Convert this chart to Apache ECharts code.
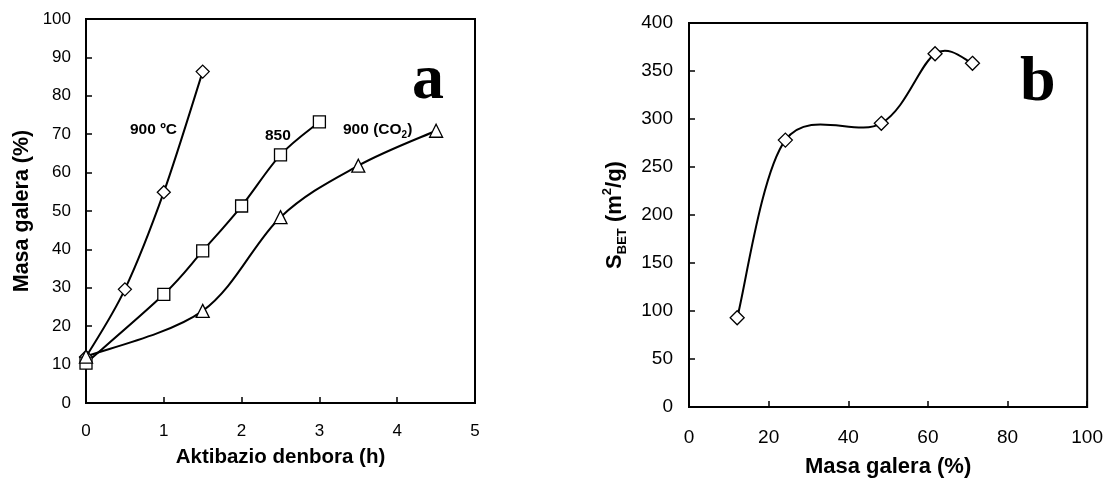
<!DOCTYPE html>
<html>
<head>
<meta charset="utf-8">
<script src="https://cdn.jsdelivr.net/npm/echarts@6/dist/echarts.min.js"></script>
<style>html,body{margin:0;padding:0;background:#fff;}#c{width:1106px;height:484px;}</style>
</head>
<body>
<div id="c"></div>
<script>
// Panel a: activation time (h) vs mass loss (%)
const xA_900C = [0, 0.5, 1, 1.5];
const yA_900C = [12, 29.6, 54.9, 86.3];
const xA_850 = [0, 1, 1.5, 2, 2.5, 3];
const yA_850 = [10.4, 28.3, 39.6, 51.3, 64.6, 73.2];
const xA_CO2 = [0, 1.5, 2.5, 3.5, 4.5];
const yA_CO2 = [12.1, 24, 48.4, 61.8, 70.9];
// Panel b: mass loss (%) vs S_BET (m2/g)
const xB = [12.1, 24.2, 48.3, 61.8, 71.2];
const yB = [93, 278, 295.5, 368, 358];

const zip = (xs, ys) => xs.map((x, i) => [x, ys[i]]);
const FONT = 'Liberation Sans, Arial, sans-serif';
const SERIF = 'Liberation Serif, Times New Roman, serif';

function axis(opt) {
  return Object.assign({
    type: 'value',
    axisLine: { show: true, lineStyle: { color: '#000', width: 2 } },
    axisTick: { show: true, inside: true, length: 6, lineStyle: { color: '#000', width: 1.5 } },
    splitLine: { show: false },
    nameLocation: 'middle'
  }, opt);
}

// Excel-style smoothed line (Catmull-Rom Bezier) drawn through the axes' scales
function smoothLine(xs, ys, idx) {
  return {
    type: 'custom', xAxisIndex: idx, yAxisIndex: idx,
    data: zip(xs, ys), encode: { x: 0, y: 1 },
    silent: true, z: 2,
    renderItem: function (params, api) {
      const i = params.dataIndex, n = xs.length;
      if (i >= n - 1) return null;
      const P = k => { k = Math.max(0, Math.min(n - 1, k)); return api.coord([xs[k], ys[k]]); };
      const p0 = P(i - 1), p1 = P(i), p2 = P(i + 1), p3 = P(i + 2);
      const t = 1 / 6;
      return {
        type: 'bezierCurve',
        shape: {
          x1: p1[0], y1: p1[1], x2: p2[0], y2: p2[1],
          cpx1: p1[0] + (p2[0] - p0[0]) * t, cpy1: p1[1] + (p2[1] - p0[1]) * t,
          cpx2: p2[0] - (p3[0] - p1[0]) * t, cpy2: p2[1] - (p3[1] - p1[1]) * t
        },
        style: { stroke: '#000', lineWidth: 2, fill: null }
      };
    }
  };
}
function markers(name, xs, ys, sym, size, idx) {
  return {
    name, type: 'scatter', xAxisIndex: idx, yAxisIndex: idx,
    data: zip(xs, ys), symbol: sym, symbolSize: size, z: 4,
    itemStyle: { color: '#fff', borderColor: '#000', borderWidth: 1.3, opacity: 1 }
  };
}

const chart = echarts.init(document.getElementById('c'), null, { renderer: 'canvas' });
chart.setOption({
  animation: false,
  backgroundColor: '#fff',
  grid: [
    { left: 86, top: 19, width: 389, height: 384, show: true, borderColor: '#000', borderWidth: 2, backgroundColor: 'transparent' },
    { left: 689, top: 23, width: 399, height: 384, show: true, borderColor: '#000', borderWidth: 2, backgroundColor: 'transparent' }
  ],
  xAxis: [
    axis({ gridIndex: 0, min: 0, max: 5, interval: 1, name: 'Aktibazio denbora (h)', nameGap: 44,
      axisLabel: { color: '#000', fontFamily: FONT, fontSize: 17, margin: 20 },
      nameTextStyle: { color: '#000', fontFamily: FONT, fontSize: 20.5, fontWeight: 'bold' } }),
    axis({ gridIndex: 1, min: 0, max: 100, interval: 20, name: 'Masa galera (%)', nameGap: 49,
      axisLabel: { color: '#000', fontFamily: FONT, fontSize: 19, margin: 21 },
      nameTextStyle: { color: '#000', fontFamily: FONT, fontSize: 22, fontWeight: 'bold' } })
  ],
  yAxis: [
    axis({ gridIndex: 0, min: 0, max: 100, interval: 10, name: 'Masa galera (%)', nameGap: 53,
      axisLabel: { color: '#000', fontFamily: FONT, fontSize: 17, margin: 15 },
      nameTextStyle: { color: '#000', fontFamily: FONT, fontSize: 21.5, fontWeight: 'bold' } }),
    axis({ gridIndex: 1, min: 0, max: 400, interval: 50,
      name: '{b|S}{s|BET}{b| (m}{p|2}{b|/g)}', nameGap: 60,
      axisLabel: { color: '#000', fontFamily: FONT, fontSize: 19, margin: 16 },
      nameTextStyle: { color: '#000', fontFamily: FONT, fontSize: 22, fontWeight: 'bold',
        rich: {
          b: { fontFamily: FONT, fontSize: 22, fontWeight: 'bold', color: '#000', lineHeight: 28, verticalAlign: 'middle' },
          s: { fontFamily: FONT, fontSize: 13, fontWeight: 'bold', color: '#000', lineHeight: 28, verticalAlign: 'bottom', padding: [10, 0, 0, 0] },
          p: { fontFamily: FONT, fontSize: 13, fontWeight: 'bold', color: '#000', lineHeight: 28, verticalAlign: 'top', padding: [0, 0, 10, 0] }
        } } })
  ],
  series: [
    smoothLine(xA_900C, yA_900C, 0),
    smoothLine(xA_850, yA_850, 0),
    smoothLine(xA_CO2, yA_CO2, 0),
    smoothLine(xB, yB, 1),
    markers('900 ºC', xA_900C, yA_900C, 'diamond', 13, 0),
    markers('850', xA_850, yA_850, 'rect', 12, 0),
    markers('900 (CO2)', xA_CO2, yA_CO2, 'triangle', [13, 13], 0),
    markers('SBET', xB, yB, 'diamond', 14, 1)
  ],
  graphic: [
    { type: 'text', left: 130, top: 122, style: { text: '900 ºC', font: 'bold 15.5px ' + FONT, fill: '#000' } },
    { type: 'text', left: 265, top: 128, style: { text: '850', font: 'bold 15.5px ' + FONT, fill: '#000' } },
    { type: 'text', left: 343, top: 122, style: { text: '{n|900 (CO}{s|2}{n|)}', fill: '#000',
        rich: { n: { font: 'bold 15.5px ' + FONT, fill: '#000', lineHeight: 20, verticalAlign: 'middle' },
                s: { font: 'bold 10px ' + FONT, fill: '#000', lineHeight: 20, verticalAlign: 'bottom', padding: [7, 0, 0, 0] } } } },
    { type: 'text', left: 412, top: 49, style: { text: 'a', font: 'bold 64px ' + SERIF, fill: '#000' } },
    { type: 'text', left: 1020, top: 51, style: { text: 'b', font: 'bold 64px ' + SERIF, fill: '#000' } }
  ]
});
</script>
</body>
</html>
